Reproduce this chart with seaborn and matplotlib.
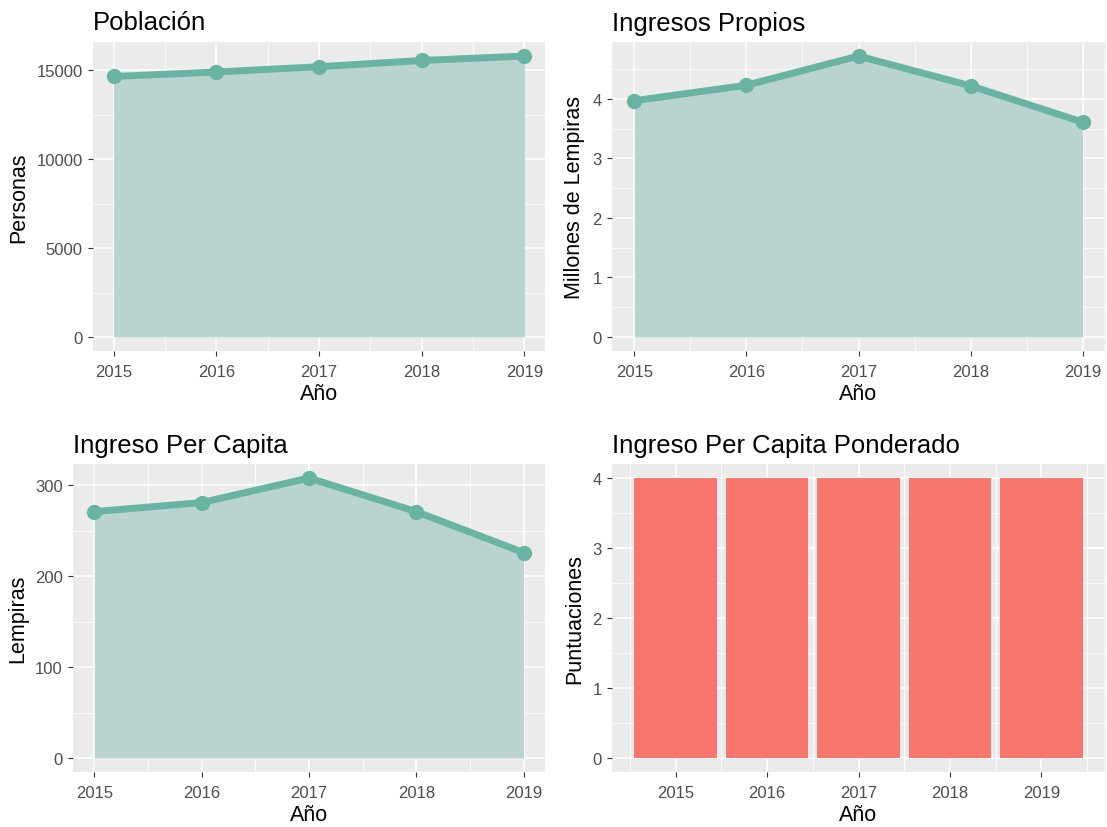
import numpy as np
import pandas as pd
import matplotlib
matplotlib.use("Agg")
import matplotlib.pyplot as plt
import seaborn as sns
from matplotlib.ticker import MultipleLocator

# Data
years = [2015, 2016, 2017, 2018, 2019]
poblacion = [14650, 14900, 15200, 15550, 15800]
ingresos_propios = [3.97, 4.23, 4.72, 4.22, 3.61]
ingreso_per_capita = [271, 281, 308, 271, 226]
ingreso_ponderado = [4, 4, 4, 4, 4]

sns.set_theme(style="darkgrid")
plt.rcParams["font.family"] = ["Liberation Sans", "DejaVu Sans"]

line_color = "#69b3a2"
fill_color = "#b9d4cf"
bar_color = "#F8766D"
panel_bg = "#EBEBEB"


def gg_style(ax, ymajor, yminor, xminor=0.5):
    ax.set_facecolor(panel_bg)
    ax.yaxis.set_major_locator(MultipleLocator(ymajor))
    ax.yaxis.set_minor_locator(MultipleLocator(yminor))
    ax.xaxis.set_major_locator(MultipleLocator(1))
    ax.xaxis.set_minor_locator(MultipleLocator(xminor))
    ax.grid(which="major", color="white", linewidth=1.1)
    ax.grid(which="minor", color="white", linewidth=0.55)
    ax.set_axisbelow(True)
    for s in ax.spines.values():
        s.set_visible(False)
    ax.tick_params(which="major", length=3.5, width=0.8, color="#333333",
                   labelsize=12, labelcolor="#4D4D4D", pad=4, bottom=True, left=True)
    ax.tick_params(axis="x", which="major", pad=6)
    ax.tick_params(which="minor", length=0)
    ax.xaxis.label.set_size(15.5)
    ax.yaxis.label.set_size(15.5)
    ax.xaxis.label.set_color("black")
    ax.yaxis.label.set_color("black")


def area_panel(ax, values, title, ylabel, ymajor, yminor):
    df = pd.DataFrame({"Año": years, "v": values})
    ax.fill_between(df["Año"], 0, df["v"], color=fill_color, linewidth=0, zorder=2)
    sns.lineplot(data=df, x="Año", y="v", ax=ax, color=line_color, linewidth=5,
                 marker="o", markersize=11, markeredgewidth=0, zorder=3)
    top = max(values)
    pad = top * 0.05
    ax.set_ylim(-pad, top + pad)
    ax.set_xlim(2015 - 0.2, 2019 + 0.2)
    ax.set_ylabel(ylabel, labelpad=5)
    ax.set_xlabel("Año", labelpad=3)
    ax.set_title(title, loc="left", fontsize=18.5, pad=9, color="black")
    gg_style(ax, ymajor, yminor)


fig = plt.figure(figsize=(11.07, 8.28), dpi=100)

ax1 = fig.add_axes([93 / 1107, 1 - 352 / 828, 452 / 1107, 309 / 828])
area_panel(ax1, poblacion, "Población", "Personas", 5000, 2500)

ax2 = fig.add_axes([612 / 1107, 1 - 352 / 828, 493 / 1107, 309 / 828])
area_panel(ax2, ingresos_propios, "Ingresos Propios", "Millones de Lempiras", 1, 0.5)

ax3 = fig.add_axes([73 / 1107, 1 - 773 / 828, 472 / 1107, 308 / 828])
area_panel(ax3, ingreso_per_capita, "Ingreso Per Capita", "Lempiras", 100, 50)

ax4 = fig.add_axes([612 / 1107, 1 - 773 / 828, 493 / 1107, 308 / 828])
df4 = pd.DataFrame({"Año": years, "v": ingreso_ponderado})
sns.barplot(data=df4, x="Año", y="v", ax=ax4, native_scale=True, width=0.9,
            color=bar_color, saturation=1, linewidth=0, zorder=2)
ax4.set_xlim(2014.55 - 0.245, 2019.45 + 0.245)
ax4.set_ylim(-0.2, 4.2)
ax4.set_ylabel("Puntuaciones", labelpad=5)
ax4.set_xlabel("Año", labelpad=3)
ax4.set_title("Ingreso Per Capita Ponderado", loc="left", fontsize=18.5, pad=9, color="black")
gg_style(ax4, 1, 0.5)
ax4.set_xticks(years)
ax4.set_xticklabels([str(y) for y in years])

fig.savefig("out.png", dpi=100)
